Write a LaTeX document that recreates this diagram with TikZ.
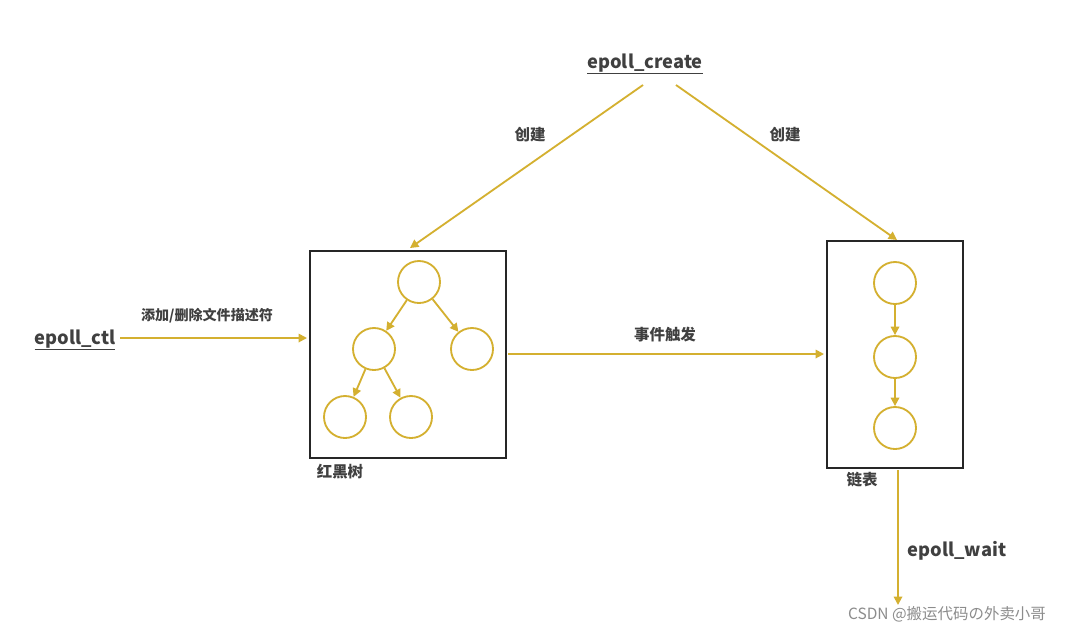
\documentclass[tikz,border=0pt]{standalone}
\usepackage{fontspec}
\setmainfont{Noto Sans CJK SC}
\usetikzlibrary{arrows.meta}
\definecolor{gold}{HTML}{D4B030}
\definecolor{txt}{HTML}{404040}
\begin{document}
\begin{tikzpicture}[x=0.025cm,y=-0.025cm,
  arr/.style={draw=gold,line width=1.3pt,-{Triangle[length=6pt,width=6pt]}},
  circ/.style={circle,draw=gold,line width=1.3pt,minimum size=1.05cm,inner sep=0pt},
  box/.style={draw=black!85,line width=1.3pt},
  lbl/.style={text=txt,font=\bfseries\fontsize{11}{13}\selectfont},
  ttl/.style={text=txt,font=\bfseries\fontsize{13}{15}\selectfont}]
\useasboundingbox[fill=white] (0,0) rectangle (1089,634);
\node[ttl] (create) at (645,64) {\underline{epoll\_create}};
\coordinate (c1) at (643,85); \coordinate (c2) at (676,85);
\coordinate (t1) at (410,248); \coordinate (t2) at (897,240);
\draw[arr] (c1) -- (t1);
\draw[arr] (c2) -- (t2);
\node[lbl] (l1) at (530,135) {创建};
\node[lbl] (l2) at (785,135) {创建};
\node[box,minimum width=4.9cm,minimum height=5.175cm] (lb) at (408,354.5) {};
\node[circ] (a) at (419,282) {};
\node[circ] (b) at (374,349) {};
\node[circ] (c) at (472,349) {};
\node[circ] (d) at (345,417) {};
\node[circ] (e) at (411,417) {};
\draw[arr] (a) -- (b); \draw[arr] (a) -- (c);
\draw[arr] (b) -- (d); \draw[arr] (b) -- (e);
\node[lbl] (rb) at (340,472) {红黑树};
\node[ttl] (ctl) at (75,340) {\underline{epoll\_ctl}};
\coordinate (s1) at (120,338); \coordinate (e1) at (307,338);
\draw[arr] (s1) -- (e1);
\node[lbl,font=\bfseries\fontsize{10}{12}\selectfont] (l3) at (207,316) {添加/删除文件描述符};
\coordinate (s2) at (508,354); \coordinate (e2) at (824,354);
\draw[arr] (s2) -- (e2);
\node[lbl] (l4) at (665,335) {事件触发};
\node[box,minimum width=3.4cm,minimum height=5.675cm] (rbx) at (895,354.5) {};
\node[circ] (p) at (895,283) {};
\node[circ] (q) at (895,357) {};
\node[circ] (r) at (895,428) {};
\draw[arr] (p) -- (q); \draw[arr] (q) -- (r);
\node[lbl] (lb2) at (862,480) {链表};
\coordinate (s3) at (898,470); \coordinate (e3) at (898,605);
\draw[arr] (s3) -- (e3);
\node[ttl] (wait) at (957,551) {epoll\_wait};
\node[text=black!45,font=\fontsize{11}{13}\selectfont] (wm) at (947,614) {CSDN @搬运代码の外卖小哥};
\end{tikzpicture}
\end{document}
